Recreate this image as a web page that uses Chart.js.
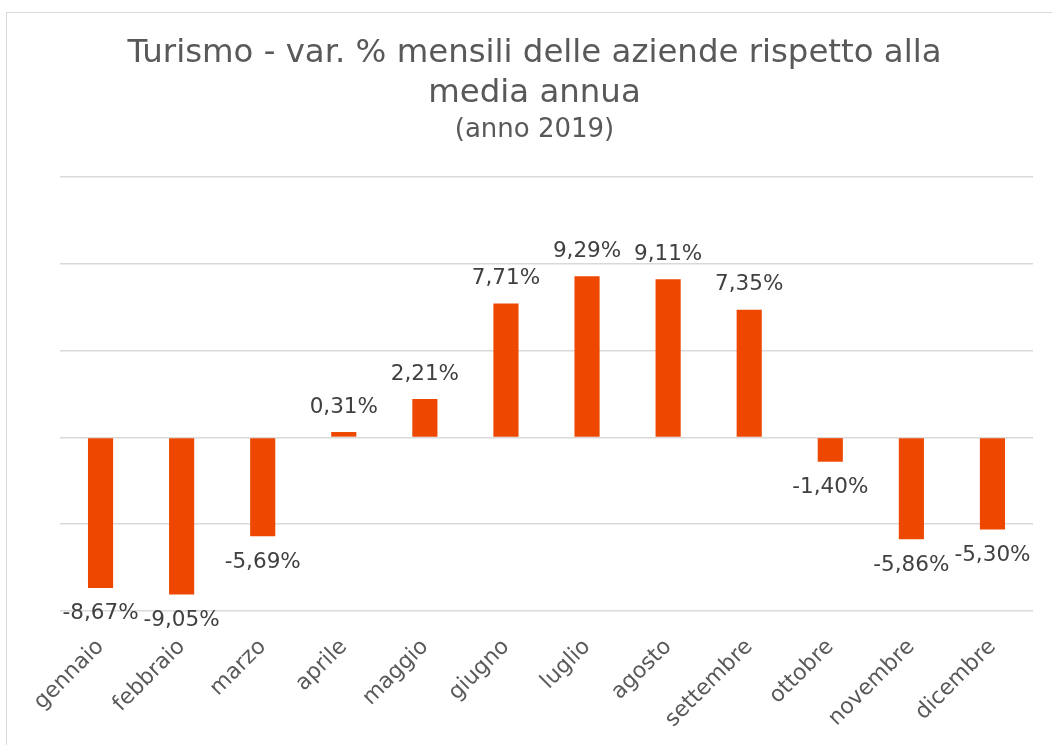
<!DOCTYPE html>
<html>
<head>
<meta charset="utf-8">
<script src="https://cdn.jsdelivr.net/npm/chart.js@4.4.1/dist/chart.umd.min.js"></script>
<style>
    html, body { margin: 0; padding: 0; background: #fff; overflow: hidden; }
    #frame { position: absolute; left: 6px; top: 12px; width: 1200px; height: 900px; border: 1px solid #d9d9d9; }
    #wrap { position: absolute; left: 0; top: 0; width: 1052px; height: 745px; }
</style>
</head>
<body>
<div id="frame"></div>
<div id="wrap"><canvas id="myBarChart" width="1052" height="745"></canvas></div>
<script>
// months and monthly % variation vs. yearly average (2019)
const months = ['gennaio', 'febbraio', 'marzo', 'aprile', 'maggio', 'giugno',
    'luglio', 'agosto', 'settembre', 'ottobre', 'novembre', 'dicembre'];
const variations = [-8.67, -9.05, -5.69, 0.31, 2.21, 7.71, 9.29, 9.11, 7.35, -1.40, -5.86, -5.30];
const yTicks = [-10, -5, 0, 5, 10, 15];

const FONT = "'DejaVu Sans', Verdana, sans-serif";

function fmt(v) {
    return v.toFixed(2).replace('.', ',') + '%';
}

// value labels: above positive bars, below negative ones
const valueLabels = {
    id: 'valueLabels',
    afterLayout(chart) {
        // title block is centred a bit left of the plot centre
        chart.boxes.forEach(b => {
            if (b.position === 'top' && !b.axis) {
                b.left -= 12;
                b.right -= 12;
            }
        });
    },
    afterDatasetsDraw(chart) {
        const ctx = chart.ctx;
        const meta = chart.getDatasetMeta(0);
        ctx.save();
        ctx.font = '21.5px ' + FONT;
        ctx.fillStyle = '#404040';
        ctx.textAlign = 'center';
        ctx.textBaseline = 'middle';
        meta.data.forEach((bar, i) => {
            const v = variations[i];
            const y = v >= 0 ? bar.y - 25 : bar.y + 26;
            ctx.fillText(fmt(v), bar.x, y);
        });
        ctx.restore();
    }
};

var ctx = document.getElementById('myBarChart').getContext('2d');

var myBarChart = new Chart(ctx, {
    type: 'bar',
    data: {
        labels: months,
        datasets: [{
            data: variations,
            backgroundColor: '#ED4700',
            borderWidth: 0,
            barPercentage: 0.31,
            categoryPercentage: 1
        }]
    },
    options: {
        responsive: false,
        animation: false,
        layout: {
            padding: { left: 60, right: 19, top: 30, bottom: 0 }
        },
        plugins: {
            legend: { display: false },
            tooltip: { enabled: false },
            title: {
                display: true,
                text: ['Turismo - var. % mensili delle aziende rispetto alla', 'media annua'],
                color: '#595959',
                font: { family: FONT, size: 32.4, weight: 'normal', lineHeight: 1.235 },
                padding: { top: 4, bottom: 3 }
            },
            subtitle: {
                display: true,
                text: '(anno 2019)',
                color: '#595959',
                font: { family: FONT, size: 26, weight: 'normal', lineHeight: 1.0 },
                padding: { top: 0, bottom: 34 }
            }
        },
        scales: {
            x: {
                grid: { display: false, drawTicks: false },
                border: { display: false },
                ticks: {
                    color: '#595959',
                    font: { family: FONT, size: 22 },
                    minRotation: 45,
                    maxRotation: 45,
                    padding: 23
                },
                afterFit(scale) { scale.height = 745 - 611; }
            },
            y: {
                min: -10,
                max: 15,
                afterBuildTicks(scale) { scale.ticks = yTicks.map(v => ({ value: v })); },
                grid: { color: '#d9d9d9', lineWidth: 1.5, drawTicks: false },
                border: { display: false },
                ticks: { display: false },
                afterFit(scale) { scale.width = 0; }
            }
        }
    },
    plugins: [valueLabels]
});
</script>
</body>
</html>
